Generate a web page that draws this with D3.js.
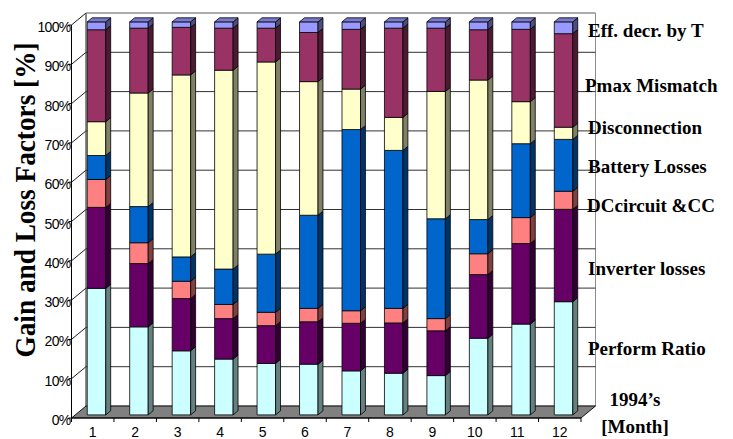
<!DOCTYPE html>
<html>
<head>
<meta charset="utf-8">
<script src="https://cdn.jsdelivr.net/npm/d3@7/dist/d3.min.js"></script>
<style>
  body { margin: 0; background: #fff; }
  svg { display: block; }
</style>
</head>
<body>
<svg id="chart" width="733" height="439"></svg>
<script>
// Monthly breakdown of gain and loss factors (1994), in percent of the total.
const months = ["1", "2", "3", "4", "5", "6", "7", "8", "9", "10", "11", "12"];
const seriesNames = ["Perform Ratio", "Inverter losses", "DCcircuit &CC", "Battery Losses",
                     "Disconnection", "Pmax Mismatch", "Eff. decr. by T"];
const performRatio   = [32.2, 22.4, 16.3, 14.2, 13.1, 12.9, 11.2, 10.6, 10.0, 19.5, 23.1, 28.8];
const inverterLosses = [20.6, 16.1, 13.3, 10.3,  9.6, 10.8, 12.1, 12.8, 11.4, 16.2, 20.5, 23.5];
const dcCircuit      = [ 7.1,  5.3,  4.4,  3.6,  3.4,  3.4,  3.2,  3.7,  3.1,  5.3,  6.6,  4.6];
const batteryLosses  = [ 6.1,  9.2,  6.2,  9.0, 14.8, 23.7, 46.1, 40.2, 25.4,  8.7, 18.8, 13.2];
const disconnection  = [ 8.6, 28.9, 46.3, 50.6, 48.9, 34.0, 10.3,  8.4, 32.4, 35.5, 10.7,  3.1];
const pmaxMismatch   = [23.4, 16.5, 12.1, 10.7,  8.6, 12.5, 15.2, 22.7, 16.1, 12.8, 18.4, 23.8];
const effDecrByT     = [ 2.0,  1.6,  1.4,  1.6,  1.6,  2.7,  1.9,  1.6,  1.6,  2.0,  1.9,  3.0];
const yTicks = [0, 10, 20, 30, 40, 50, 60, 70, 80, 90, 100];
const seriesColors = ["#CCFFFF", "#660066", "#FF8080", "#0066CC", "#FFFFCC", "#993366", "#9999FF"];

const seriesValues = [performRatio, inverterLosses, dcCircuit, batteryLosses,
                      disconnection, pmaxMismatch, effDecrByT];
const table = months.map((m, i) => {
  const row = { month: m };
  seriesNames.forEach((s, k) => { row[s] = seriesValues[k][i]; });
  return row;
});
const stacked = d3.stack().keys(seriesNames)(table);

// ---- layout ----
const svg = d3.select("#chart");
const X0 = 71.5, X1 = 581, Y0 = 418, Y100 = 25;
const DX = 14.5, DY = -12;          // depth vector of the 3-D box
const Z0 = 0.26, Z1 = 0.6;          // bar depth range (fraction of box depth)

const x = d3.scaleBand().domain(months).range([X0, X1])
  .paddingInner(0.564).paddingOuter(0.282);
const step = x.step();
const y = d3.scaleLinear().domain([0, 100]).range([Y0, Y100]);

const P = (px, py, z) => [px + DX * z, py + DY * z];
const poly = pts => "M" + pts.map(p => p.join(",")).join("L") + "Z";
const shade = (c, k) => { const r = d3.rgb(c); return d3.rgb(r.r * k, r.g * k, r.b * k).formatHex(); };

// back wall
svg.append("path")
  .attr("d", poly([P(X0, y(0), 1), P(X1, y(0), 1), P(X1, y(100), 1), P(X0, y(100), 1)]))
  .attr("fill", "#fff").attr("stroke", "#8c8c8c").attr("stroke-width", 1);

// gridlines: diagonal on the side wall, then across the back wall
const grid = svg.append("g");
yTicks.filter(t => t > 0).forEach(t => {
  const a = [X0, y(t)], b = P(X0, y(t), 1), c = P(X1, y(t), 1);
  grid.append("path")
    .attr("d", `M${a}L${b}`)
    .attr("fill", "none").attr("stroke", "#000").attr("stroke-width", 0.9);
  grid.append("path")
    .attr("d", `M${b}L${c}`)
    .attr("fill", "none").attr("stroke", t === 100 ? "#8c8c8c" : "#1a1a1a").attr("stroke-width", 0.9);
});
// back-left vertical edge
svg.append("path")
  .attr("d", `M${P(X0, y(0), 1)}L${P(X0, y(100), 1)}`)
  .attr("stroke", "#555").attr("stroke-width", 1);

// floor
svg.append("path")
  .attr("d", poly([[X0, y(0)], [X1, y(0)], P(X1, y(0), 1), P(X0, y(0), 1)]))
  .attr("fill", "#808080").attr("stroke", "#000").attr("stroke-width", 0.9);

// front value axis
svg.append("path").attr("d", `M${X0},${y(0)}V${y(100)}`).attr("stroke", "#000").attr("stroke-width", 1);
const yAxisG = svg.append("g").attr("font-family", "'Liberation Sans', Arial, sans-serif")
  .attr("font-size", 14).attr("letter-spacing", "-0.7px");
yTicks.forEach(t => {
  yAxisG.append("path").attr("d", `M${X0 - 3},${y(t)}H${X0}`).attr("stroke", "#000");
  yAxisG.append("text").attr("x", X0 - 1).attr("y", y(t) + 7)
    .attr("text-anchor", "end").attr("fill", "#000").text(t + "%");
});

// front category axis
svg.append("path").attr("d", `M${X0},${y(0)}H${X1}`).attr("stroke", "#000").attr("stroke-width", 1);
d3.range(months.length + 1).forEach(i => {
  const xx = X0 + i * step;
  svg.append("path").attr("d", `M${xx},${y(0)}V${y(0) + 4}`).attr("stroke", "#000");
});
svg.append("g").attr("font-family", "'Liberation Sans', Arial, sans-serif").attr("font-size", 14)
  .selectAll("text").data(months).join("text")
  .attr("x", d => x(d) + x.bandwidth() / 2)
  .attr("y", 437)
  .attr("text-anchor", "middle").attr("fill", "#000")
  .text(d => d);

// stacked 3-D bars
const bw = x.bandwidth();
const bars = svg.append("g").attr("stroke", "#000").attr("stroke-width", 0.8).attr("stroke-linejoin", "round");
months.forEach((m, i) => {
  const xl = x(m), xr = xl + bw;
  stacked.forEach((layer, k) => {
    const [v0, v1] = layer[i];
    const col = seriesColors[k];
    // front face
    bars.append("path")
      .attr("d", poly([P(xl, y(v0), Z0), P(xr, y(v0), Z0), P(xr, y(v1), Z0), P(xl, y(v1), Z0)]))
      .attr("fill", col);
    // right side face
    bars.append("path")
      .attr("d", poly([P(xr, y(v0), Z0), P(xr, y(v0), Z1), P(xr, y(v1), Z1), P(xr, y(v1), Z0)]))
      .attr("fill", shade(col, 0.5));
    // top face of the whole column
    if (k === stacked.length - 1) {
      bars.append("path")
        .attr("d", poly([P(xl, y(v1), Z0), P(xr, y(v1), Z0), P(xr, y(v1), Z1), P(xl, y(v1), Z1)]))
        .attr("fill", shade(col, 0.8));
    }
  });
});

// axis title
svg.append("text")
  .attr("transform", "translate(35,200) rotate(-90)")
  .attr("text-anchor", "middle")
  .attr("font-family", "'Liberation Serif', 'Times New Roman', serif")
  .attr("font-weight", "bold").attr("font-size", 30)
  .attr("textLength", 315).attr("lengthAdjust", "spacingAndGlyphs")
  .attr("fill", "#000")
  .text("Gain and Loss Factors [%]");

// series labels at the right, top series first
const labelLayout = [
  { name: "Eff. decr. by T", x: 588, y: 37 },
  { name: "Pmax Mismatch",   x: 585, y: 92 },
  { name: "Disconnection",   x: 588, y: 134 },
  { name: "Battery Losses",  x: 588, y: 173 },
  { name: "DCcircuit &CC",   x: 587, y: 212 },
  { name: "Inverter losses", x: 588, y: 275 },
  { name: "Perform Ratio",   x: 588, y: 355 }
];
const lab = svg.append("g")
  .attr("font-family", "'Liberation Serif', 'Times New Roman', serif")
  .attr("font-weight", "bold").attr("font-size", 19).attr("fill", "#000");
labelLayout.forEach(l => {
  lab.append("text").attr("x", l.x).attr("y", l.y).text(l.name);
});
lab.append("text").attr("x", 635).attr("y", 406).attr("text-anchor", "middle").text("1994\u2019s");
lab.append("text").attr("x", 635).attr("y", 433).attr("text-anchor", "middle").text("[Month]");
</script>
</body>
</html>
